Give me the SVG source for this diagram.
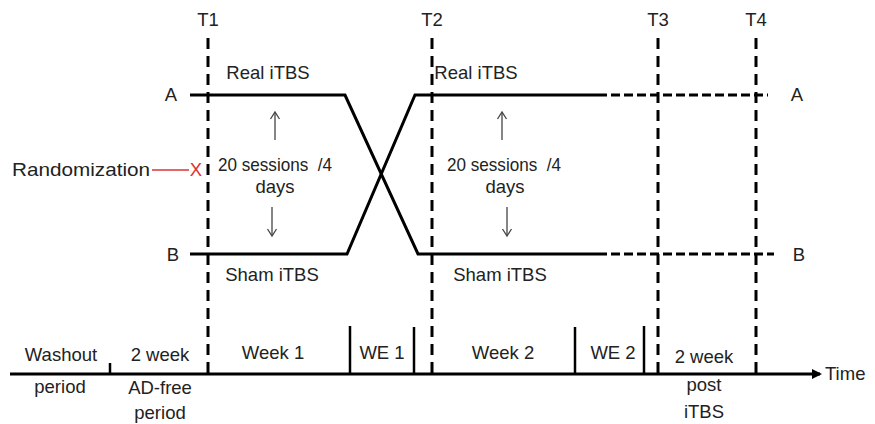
<svg xmlns="http://www.w3.org/2000/svg" width="875" height="424" viewBox="0 0 875 424">
<defs>
<style>
text{font-family:"Liberation Sans",Arial,sans-serif;font-size:18.5px;fill:#222}
.c{text-anchor:middle}
.vd{stroke:#000;stroke-width:3;stroke-dasharray:11,7;fill:none}
.hs{stroke:#000;stroke-width:3;fill:none}
.hd{stroke:#000;stroke-width:3;stroke-dasharray:9,4;fill:none}
.tk{stroke:#000;stroke-width:2.5}
.ar{stroke:#444;stroke-width:1.3;fill:none}
</style>
<marker id="ah" markerWidth="10" markerHeight="10" refX="8" refY="5" orient="auto" markerUnits="userSpaceOnUse">
<path d="M0,0 L10,5 L0,10 Z" fill="#000"/>
</marker>
</defs>
<rect width="875" height="424" fill="#fff"/>
<g id="timepoints">
<g id="T1"><text class="c" x="208" y="26">T1</text><line class="vd" x1="208" y1="38" x2="208" y2="376"/></g>
<g id="T2"><text class="c" x="432" y="26">T2</text><line class="vd" x1="432" y1="38" x2="432" y2="376"/></g>
<g id="T3"><text class="c" x="658" y="26">T3</text><line class="vd" x1="658" y1="38" x2="658" y2="376"/></g>
<g id="T4"><text class="c" x="756" y="26">T4</text><line class="vd" x1="756" y1="38" x2="756" y2="376"/></g>
</g>
<g id="connectors">
<polyline class="hs" points="190,95 345,95 418,254 598,254"/>
<polyline class="hs" points="190,254 347,254 415,95 598,95"/>
<line class="hd" x1="598" y1="95" x2="768" y2="95"/>
<line class="hd" x1="598" y1="254" x2="774" y2="254"/>
<line x1="152" y1="170" x2="189" y2="170" stroke="#d33" stroke-width="1.3"/>
<line class="ar" x1="275" y1="140" x2="275" y2="113"/><path class="ar" d="M270.5,119 L275,112 L279.5,119"/>
<line class="ar" x1="272" y1="207" x2="272" y2="235"/><path class="ar" d="M267.5,229 L272,236 L276.5,229"/>
<line class="ar" x1="502" y1="140" x2="502" y2="113"/><path class="ar" d="M497.5,119 L502,112 L506.5,119"/>
<line class="ar" x1="507" y1="207" x2="507" y2="235"/><path class="ar" d="M502.5,229 L507,236 L511.5,229"/>
<line x1="10" y1="374" x2="820" y2="374" stroke="#000" stroke-width="3" marker-end="url(#ah)"/>
<line class="tk" x1="110" y1="363" x2="110" y2="374"/>
<line class="tk" x1="350" y1="326" x2="350" y2="374"/>
<line class="tk" x1="414" y1="327" x2="414" y2="374"/>
<line class="tk" x1="575" y1="327" x2="575" y2="374"/>
<line class="tk" x1="644" y1="326" x2="644" y2="374"/>
</g>
<g id="arms">
<g id="armA-left"><text class="c" x="171" y="101">A</text></g>
<g id="armB-left"><text class="c" x="173" y="261">B</text></g>
<g id="armA-right"><text class="c" x="797" y="101">A</text></g>
<g id="armB-right"><text class="c" x="799" y="261">B</text></g>
<g id="randomization"><text x="12" y="176" textLength="138" lengthAdjust="spacingAndGlyphs">Randomization</text><text class="c" x="196" y="176" style="fill:#d33">X</text></g>
</g>
<g id="phase1">
<text x="218" y="171" xml:space="preserve" textLength="114" lengthAdjust="spacingAndGlyphs">20 sessions  /4</text>
<text class="c" x="268" y="79">Real iTBS</text>
<text class="c" x="275" y="193">days</text>
<text class="c" x="272" y="281">Sham iTBS</text>
</g>
<g id="phase2">
<text class="c" x="476" y="79">Real iTBS</text>
<text x="447" y="171" xml:space="preserve" textLength="114" lengthAdjust="spacingAndGlyphs">20 sessions  /4</text>
<text class="c" x="505" y="193">days</text>
<text class="c" x="500" y="281">Sham iTBS</text>
</g>
<g id="periods">
<g id="washout"><text class="c" x="61" y="361">Washout</text><text class="c" x="60" y="393">period</text></g>
<g id="adfree"><text class="c" x="160" y="361">2 week</text><text class="c" x="160" y="394">AD-free</text><text class="c" x="160" y="419">period</text></g>
<g id="week1"><text class="c" x="273" y="359">Week 1</text></g>
<g id="we1"><text class="c" x="382" y="359">WE 1</text></g>
<g id="week2"><text class="c" x="503" y="359">Week 2</text></g>
<g id="we2"><text class="c" x="613" y="359">WE 2</text></g>
<g id="post"><text class="c" x="704" y="363">2 week</text><text class="c" x="704" y="391">post</text><text class="c" x="704" y="418">iTBS</text></g>
<g id="time"><text x="825" y="380">Time</text></g>
</g>
</svg>
